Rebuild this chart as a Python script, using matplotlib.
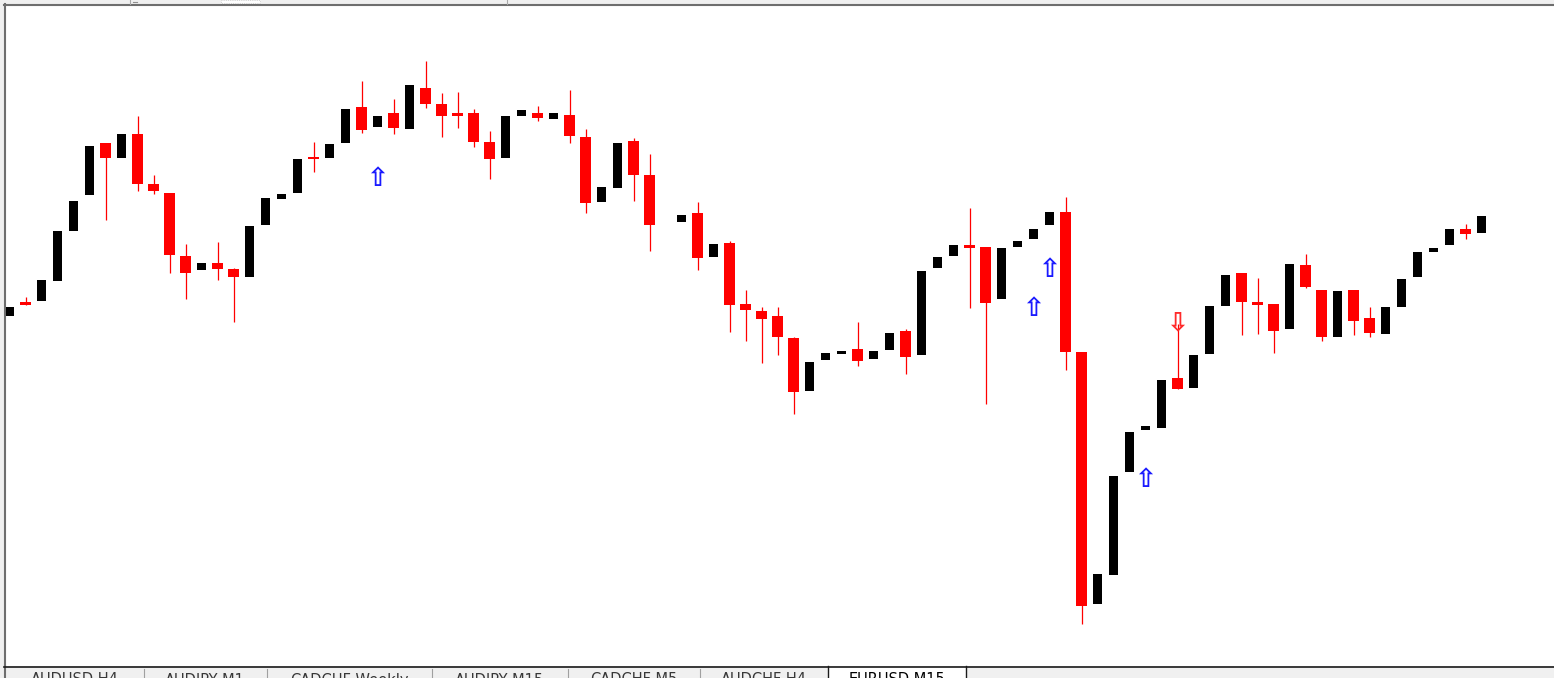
import numpy as np
import matplotlib.pyplot as plt
from matplotlib.patches import Rectangle

# EURUSD,M15 bars - heights (px above the bottom of the plot area)
opens = [348, 362, 363, 383, 433, 469, 521, 506, 530, 480,
         471, 408, 394, 401, 395, 387, 439, 465, 471, 507,
         506, 521, 557, 537, 551, 535, 576, 560, 551, 551,
         522, 506, 548, 551, 545, 549, 527, 462, 476, 523,
         489, np.nan, 442, 451, 407, 421, 360, 353, 348, 326,
         273, 304, 310, 315, 305, 314, 333, 309, 396, 408,
         419, 417, 365, 417, 425, 439, 452, 312, 60, 89,
         192, 234, 236, 286, 276, 310, 358, 391, 362, 360,
         335, 399, 374, 327, 374, 346, 330, 357, 387, 412,
         419, 435, 431]
closes = [357, 359, 384, 433, 463, 518, 506, 530, 480, 473,
          409, 391, 401, 395, 387, 438, 466, 470, 505, 505,
          520, 555, 534, 548, 536, 579, 560, 548, 548, 522,
          505, 548, 554, 546, 551, 528, 461, 477, 521, 489,
          439, np.nan, 449, 406, 420, 359, 354, 345, 327, 272,
          302, 311, 313, 303, 313, 331, 307, 393, 407, 419,
          416, 361, 416, 423, 435, 452, 312, 58, 90, 188,
          232, 238, 284, 275, 309, 358, 389, 362, 359, 333,
          400, 377, 327, 373, 343, 331, 357, 385, 412, 416,
          435, 430, 448]
highs = [357, 367, 384, 433, 463, 518, 521, 530, 548, 489,
         471, 420, 401, 422, 396, 438, 466, 470, 505, 522,
         520, 555, 583, 548, 565, 579, 603, 571, 572, 555,
         533, 548, 554, 558, 551, 574, 535, 477, 521, 526,
         510, np.nan, 449, 462, 420, 423, 374, 357, 357, 327,
         302, 311, 313, 342, 313, 331, 335, 393, 407, 419,
         456, 417, 416, 423, 435, 452, 467, 312, 90, 188,
         232, 238, 284, 340, 309, 358, 389, 391, 386, 360,
         400, 410, 374, 373, 374, 357, 357, 385, 412, 416,
         435, 440, 448]
lows = [348, 359, 363, 383, 433, 469, 444, 506, 473, 470,
        391, 365, 394, 384, 342, 387, 439, 465, 471, 492,
        506, 521, 531, 537, 530, 535, 556, 527, 536, 517,
        485, 506, 548, 543, 545, 521, 451, 462, 476, 463,
        413, np.nan, 442, 394, 407, 332, 323, 301, 309, 250,
        273, 304, 310, 298, 305, 314, 290, 309, 396, 408,
        356, 260, 365, 417, 425, 439, 294, 40, 60, 89,
        192, 234, 236, 275, 276, 310, 358, 329, 330, 311,
        335, 376, 323, 327, 329, 327, 330, 357, 387, 412,
        419, 425, 431]

# indicator arrows
buy_bars = [23, 64, 65, 71]
buy_levels = [485, 355, 394, 184]
sell_bars = [73]
sell_levels = [341]

tabs = ["AUDUSD,H4", "AUDJPY,M1", "CADCHF,Weekly", "AUDJPY,M15",
        "CADCHF,M5", "AUDCHF,H4", "EURUSD,M15"]
tab_edges = [6, 143.5, 266.5, 431.5, 567.5, 699.5, 828, 966]

W, H = 1554, 678


def chrome(fig):
    bg = fig.add_axes([0, 0, 1, 1], zorder=0)
    bg.set_xlim(0, W)
    bg.set_ylim(H, 0)
    bg.axis("off")
    # window frame
    bg.add_patch(Rectangle((6, 6), W - 6, 660, facecolor="white", edgecolor="none"))
    bg.plot([5, 5], [4, 666], color="#6e6e6e", lw=1.5)
    bg.plot([4, W], [5, 5], color="#6e6e6e", lw=1.5)
    bg.plot([130, 130], [0, 3.5], color="#a8a8a8", lw=0.8)
    bg.plot([507, 507], [0, 3.5], color="#a8a8a8", lw=0.8)
    bg.plot([133, 137], [1.5, 1.5], color="#909090", lw=0.8)
    bg.add_patch(Rectangle((221, 0), 39, 2.5, facecolor="white", edgecolor="#c8c8c8", lw=0.6, ls=":"))
    # tab bar
    bg.add_patch(Rectangle((6, 667), W - 6, 11, facecolor="#f0f0f0", edgecolor="none"))
    bg.plot([5, 5], [666, H], color="#6e6e6e", lw=1.5)
    for x in tab_edges[1:-2]:
        bg.plot([x, x], [669, H], color="#a0a0a0", lw=0.8)
    bg.add_patch(Rectangle((828, 667), 138, 11, facecolor="white", edgecolor="none"))
    bg.plot([4, W], [666.5, 666.5], color="#1a1a1a", lw=1.2)
    bg.plot([828, 828], [666, H], color="#1a1a1a", lw=1)
    bg.plot([966, 966], [666, H], color="#1a1a1a", lw=1)
    for i, name in enumerate(tabs):
        cx = (tab_edges[i] + tab_edges[i + 1]) / 2
        col = "black" if i == len(tabs) - 1 else "#383838"
        bg.text(cx, 672.5, name, ha="center", va="top", fontsize=10.5,
                color=col, family="DejaVu Sans")


def candles():
    fig = plt.figure(figsize=(W / 100, H / 100), dpi=100, facecolor="#f0f0f0")
    chrome(fig)
    ax = fig.add_axes([6 / W, 14 / H, (W - 6) / W, 658 / H], zorder=1)
    ax.set_facecolor("white")

    o, c = np.array(opens, float), np.array(closes, float)
    hi, lo = np.array(highs, float), np.array(lows, float)
    x = np.arange(len(o))
    up = c >= o
    dn = c < o

    # bearish: red wick + red body, bullish: black body (wick not visible)
    ax.vlines(x[dn], lo[dn], hi[dn], color="red", lw=0.9)
    bh = np.maximum(np.abs(c - o), 2)
    ax.bar(x[dn], bh[dn], bottom=np.minimum(o, c)[dn], width=11 / 16,
           color="red", edgecolor="none")
    ax.bar(x[up], bh[up], bottom=np.minimum(o, c)[up], width=9 / 16,
           color="black", edgecolor="none")

    # signal arrows (hollow arrow glyphs, like the terminal's wingdings objects)
    for b, lv in zip(buy_bars, buy_levels):
        ax.text(b, lv, "\u21e7", ha="center", va="center", fontsize=19,
                color="#1a1aff", family="DejaVu Sans", fontweight="bold")
    for b, lv in zip(sell_bars, sell_levels):
        ax.text(b, lv, "\u21e9", ha="center", va="center", fontsize=19,
                color="#ff2a2a", family="DejaVu Sans", fontweight="bold")

    ax.set_xlim(-3.5 / 16, -3.5 / 16 + (W - 6) / 16)
    ax.set_ylim(0, 658)
    ax.axis("off")
    fig.savefig("out.png", dpi=100, facecolor=fig.get_facecolor())


if __name__ == "__main__":
    candles()
